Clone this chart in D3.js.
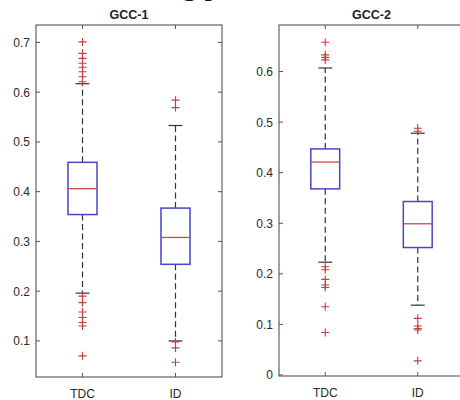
<!DOCTYPE html>
<html>
<head>
<meta charset="utf-8">
<script src="https://cdn.jsdelivr.net/npm/d3@7"></script>
<style>
  html, body { margin: 0; padding: 0; background: #fff; }
  svg { display: block; }
  .tick-lbl { font-family: 'Liberation Sans', Arial, sans-serif; font-size: 12px; fill: #2a2a2a; }
  .title { font-family: 'Liberation Sans', Arial, sans-serif; font-size: 12.5px; font-weight: bold; fill: #222; }
</style>
</head>
<body>
<svg id="chart" width="460" height="400"></svg>
<script>
// Two MATLAB-style boxplots side by side: GCC-1 and GCC-2, each TDC vs ID.
var categories = ['TDC', 'ID'];

// [lower whisker, q1, median, q3, upper whisker] per category
var gcc1Box = [
    [0.196, 0.354, 0.406, 0.459, 0.617],
    [0.100, 0.254, 0.308, 0.367, 0.533]
];
var gcc2Box = [
    [0.223, 0.368, 0.421, 0.447, 0.607],
    [0.138, 0.252, 0.299, 0.343, 0.478]
];

// outliers ("+" markers) per category
var gcc1Outliers = [
    [0.701, 0.678, 0.668, 0.658, 0.650, 0.641, 0.631, 0.621,
     0.190, 0.177, 0.158, 0.147, 0.137, 0.130, 0.070],
    [0.584, 0.569, 0.098, 0.086, 0.057]
];
var gcc2Outliers = [
    [0.658, 0.633, 0.628, 0.623, 0.214, 0.208, 0.189, 0.178, 0.173, 0.135, 0.084],
    [0.488, 0.482, 0.112, 0.097, 0.092, 0.089, 0.028]
];

var gcc1Ticks = [0.1, 0.2, 0.3, 0.4, 0.5, 0.6, 0.7];
var gcc2Ticks = [0, 0.1, 0.2, 0.3, 0.4, 0.5, 0.6];

var C_BOX = '#4646c8';
var C_MED = '#cc4a4a';
var C_OUT = '#c23c3c';
var C_WHISK = '#333';
var C_FRAME = '#555';

var svg = d3.select('#chart');

// leftover of a caption line above the figure (cropped in the original)
svg.append('text')
    .attr('x', 182).attr('y', -5)
    .attr('font-family', "'Liberation Serif', 'Times New Roman', serif")
    .attr('font-size', 30)
    .attr('fill', '#111')
    .text('g p');

function panel(opts) {
    var g = svg.append('g');
    var x = d3.scaleLinear().domain([0.5, 2.5]).range([opts.x0, opts.x1]);
    var y = d3.scaleLinear().domain(opts.yDomain).range([opts.y1, opts.y0]);
    var halfW = 0.156;   // box half width in category units
    var capHalf = 0.075;

    // frame
    g.append('rect')
        .attr('x', opts.x0).attr('y', opts.y0)
        .attr('width', opts.x1 - opts.x0).attr('height', opts.y1 - opts.y0)
        .attr('fill', 'none').attr('stroke', C_FRAME).attr('stroke-width', 1.1);

    // y ticks (inside, both sides)
    opts.ticks.forEach(function (t) {
        var yy = y(t);
        g.append('line').attr('x1', opts.x0).attr('x2', opts.x0 + 4)
            .attr('y1', yy).attr('y2', yy).attr('stroke', C_FRAME);
        g.append('line').attr('x1', opts.x1).attr('x2', opts.x1 - 4)
            .attr('y1', yy).attr('y2', yy).attr('stroke', C_FRAME);
        g.append('text').attr('class', 'tick-lbl')
            .attr('x', opts.x0 - 6).attr('y', yy + 4.5)
            .attr('text-anchor', 'end')
            .text(t === 0 ? '0' : t.toFixed(1));
    });

    // x ticks (inside, top and bottom) + labels
    categories.forEach(function (c, i) {
        var xx = x(i + 1);
        g.append('line').attr('x1', xx).attr('x2', xx)
            .attr('y1', opts.y1).attr('y2', opts.y1 - 4).attr('stroke', C_FRAME);
        g.append('line').attr('x1', xx).attr('x2', xx)
            .attr('y1', opts.y0).attr('y2', opts.y0 + 4).attr('stroke', C_FRAME);
        g.append('text').attr('class', 'tick-lbl')
            .attr('x', xx).attr('y', opts.y1 + 21)
            .attr('text-anchor', 'middle')
            .text(c);
    });

    // title
    g.append('text').attr('class', 'title')
        .attr('x', (opts.x0 + opts.x1) / 2).attr('y', opts.y0 - 6)
        .attr('text-anchor', 'middle')
        .text(opts.title);

    opts.box.forEach(function (b, i) {
        var cx = x(i + 1);
        var lo = b[0], q1 = b[1], med = b[2], q3 = b[3], hi = b[4];

        // whiskers
        [[q3, hi], [q1, lo]].forEach(function (w) {
            g.append('line')
                .attr('x1', cx).attr('x2', cx)
                .attr('y1', y(w[0])).attr('y2', y(w[1]))
                .attr('stroke', C_WHISK).attr('stroke-width', 1.2)
                .attr('stroke-dasharray', '6 3.5');
            g.append('line')
                .attr('x1', x(i + 1 - capHalf)).attr('x2', x(i + 1 + capHalf))
                .attr('y1', y(w[1])).attr('y2', y(w[1]))
                .attr('stroke', C_WHISK).attr('stroke-width', 1.2);
        });

        // box
        g.append('rect')
            .attr('x', x(i + 1 - halfW)).attr('y', y(q3))
            .attr('width', x(i + 1 + halfW) - x(i + 1 - halfW))
            .attr('height', y(q1) - y(q3))
            .attr('fill', 'none').attr('stroke', C_BOX).attr('stroke-width', 1.5);

        // median
        g.append('line')
            .attr('x1', x(i + 1 - halfW)).attr('x2', x(i + 1 + halfW))
            .attr('y1', y(med)).attr('y2', y(med))
            .attr('stroke', C_MED).attr('stroke-width', 1.3);

        // outliers
        opts.outliers[i].forEach(function (v) {
            var yy = y(v);
            g.append('path')
                .attr('d', 'M' + (cx - 4) + ',' + yy + 'H' + (cx + 4) +
                           'M' + cx + ',' + (yy - 4) + 'V' + (yy + 4))
                .attr('stroke', C_OUT).attr('stroke-width', 1.1)
                .attr('fill', 'none');
        });
    });
}

panel({
    title: 'GCC-1', x0: 36, x1: 222, y0: 25, y1: 377,
    yDomain: [0.0275, 0.735], ticks: gcc1Ticks,
    box: gcc1Box, outliers: gcc1Outliers
});
panel({
    title: 'GCC-2', x0: 279, x1: 464, y0: 25, y1: 376,
    yDomain: [-0.002, 0.692], ticks: gcc2Ticks,
    box: gcc2Box, outliers: gcc2Outliers
});
</script>
</body>
</html>
